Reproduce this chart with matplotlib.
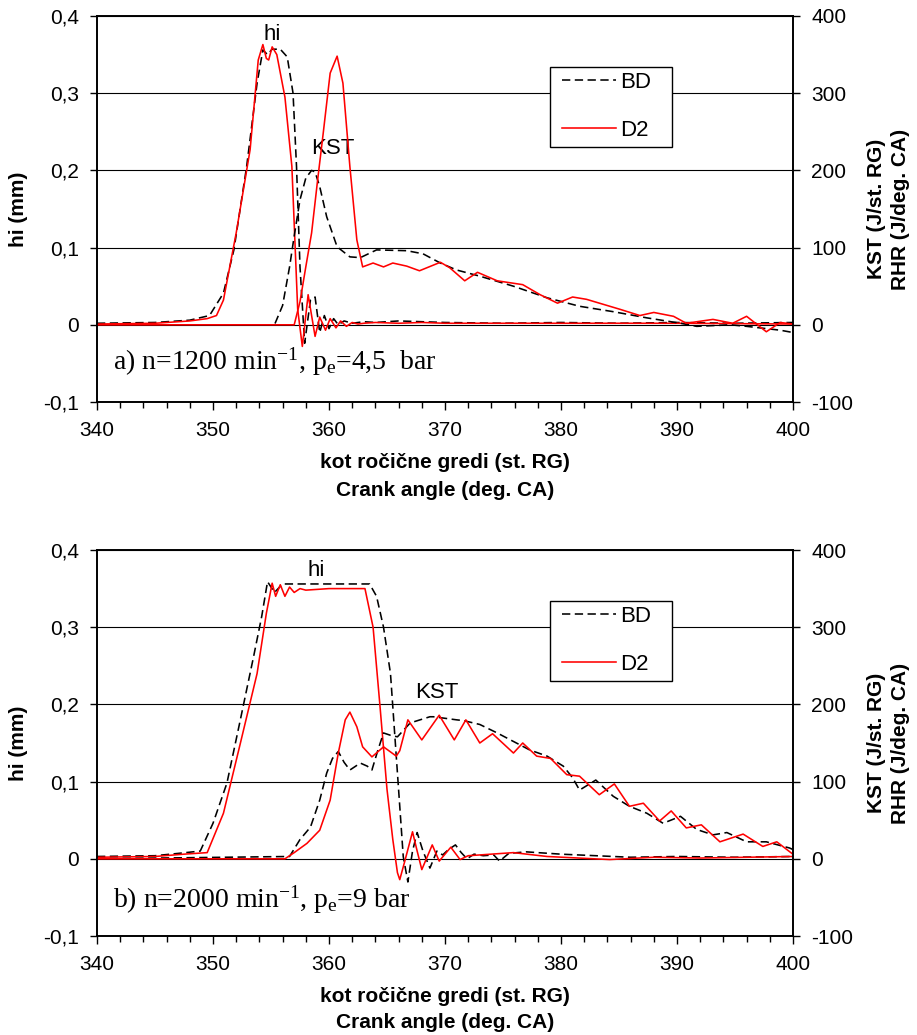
import matplotlib
matplotlib.use("Agg")
import matplotlib.pyplot as plt
from matplotlib.patches import Rectangle
from matplotlib.ticker import MultipleLocator, FixedLocator

plt.rcParams['font.family'] = ['Liberation Sans', 'DejaVu Sans']
plt.rcParams['mathtext.fontset'] = 'custom'
plt.rcParams['mathtext.rm'] = 'Liberation Serif'
plt.rcParams['mathtext.it'] = 'Liberation Serif:italic'
plt.rcParams['mathtext.bf'] = 'Liberation Serif:bold'

# ---------------- data ----------------
# a) n = 1200 1/min, pe = 4,5 bar
hi_bd_a_x = [340, 345, 348, 349.7, 350.9, 351.8, 352.9, 353.8, 354.3, 354.7, 355.1, 355.8, 356.4,
             356.9, 357.2, 357.5, 357.9, 358.4, 358.8, 359.2, 359.6, 360.0, 360.4, 360.8, 361.3,
             362, 363, 364, 366, 370, 375, 380, 385, 390, 395, 400]
hi_bd_a_y = [0.002, 0.003, 0.006, 0.012, 0.041, 0.097, 0.205, 0.313, 0.356, 0.350, 0.357, 0.357, 0.347,
             0.300, 0.205, 0.075, -0.024, 0.032, 0.036, -0.010, 0.012, -0.005, 0.008, 0.000, 0.005,
             0.002, 0.004, 0.003, 0.005, 0.003, 0.002, 0.003, 0.002, 0.003, 0.002, 0.003]

hi_d2_a_x = [340, 345, 348, 349.5, 350.3, 350.9, 352.0, 353.2, 353.9, 354.3, 354.6, 354.8, 355.1,
             355.5, 356.2, 356.8, 357.3, 357.7, 358.2, 358.8, 359.2, 359.7, 360.1, 360.6, 361.0,
             361.5, 362.0, 362.5, 363, 364, 366, 368, 370, 375, 380, 390, 400]
hi_d2_a_y = [0.001, 0.002, 0.005, 0.008, 0.012, 0.032, 0.119, 0.227, 0.343, 0.363, 0.345, 0.343, 0.360,
             0.350, 0.295, 0.205, 0.020, -0.028, 0.039, -0.015, 0.010, -0.007, 0.008, -0.004, 0.005,
             -0.002, 0.003, 0.001, 0.002, 0.003, 0.002, 0.003, 0.002, 0.002, 0.002, 0.002, 0.001]

kst_bd_a_x = [340, 355.3, 356.0, 356.6, 357.0, 357.5, 358.0, 358.5, 358.8, 359.2, 359.8, 360.7,
              361.8, 362.7, 364.1, 366.7, 368.1, 369.6, 371.0, 373.0, 375.9, 378.8, 381.6, 384.5,
              387.4, 390.3, 391.7, 394.6, 396.0, 398.9, 400]
kst_bd_a_y = [0, 0, 25, 75, 115, 162, 190, 200, 198, 179, 140, 101,
              88, 87, 97, 96, 92, 80, 71, 63, 50, 35, 24, 17,
              9, 2, -2, 0, -2, -7, -10]

kst_d2_a_x = [340, 357.0, 357.5, 358.0, 358.5, 359.0, 359.5, 360.1, 360.7, 361.2, 361.8, 362.4,
              362.9, 363.8, 364.7, 365.5, 366.7, 367.8, 369.6, 370.4, 371.7, 372.8, 374.5, 376.7,
              378.2, 379.7, 381.0, 382.2, 385.1, 386.8, 388.0, 389.7, 390.8, 393.1, 394.8, 396.0,
              397.7, 398.9, 400]
kst_d2_a_y = [0, 0, 30, 75, 119, 185, 248, 326, 348, 313, 205, 110,
              75, 80, 75, 80, 76, 70, 81, 74, 57, 68, 57, 52,
              39, 28, 36, 33, 20, 12, 16, 11, 2, 7, 2, 11,
              -9, 3, 1]

# b) n = 2000 1/min, pe = 9 bar
hi_bd_b_x = [340, 345, 347, 348.9, 350.0, 351.2, 352.3, 353.5, 354.2, 354.7, 355.3, 356.0, 357,
             360, 363.5, 364.1, 364.7, 365.3, 365.7, 366.1, 366.4, 366.8, 367.2, 367.6, 368.1,
             368.7, 369.3, 369.8, 370.3, 370.9, 371.4, 371.9, 372.5, 373.3, 374.2, 374.7, 375.5,
             377, 380, 383, 386, 390, 395, 400]
hi_bd_b_y = [0.003, 0.004, 0.007, 0.010, 0.046, 0.098, 0.176, 0.262, 0.314, 0.359, 0.345, 0.356, 0.356,
             0.356, 0.356, 0.340, 0.300, 0.240, 0.154, 0.068, 0.003, -0.030, 0.010, 0.034, 0.010,
             -0.012, 0.010, 0.005, 0.012, 0.018, 0.008, 0.000, 0.006, 0.004, 0.005, -0.003, 0.007,
             0.009, 0.006, 0.004, 0.002, 0.003, 0.002, 0.003]

hi_d2_b_x = [340, 345, 347.5, 349.5, 350.9, 352.3, 353.8, 354.6, 355.1, 355.4, 355.8, 356.2, 356.6,
             357.0, 357.5, 358, 360, 363.1, 363.8, 364.4, 365.0, 365.5, 365.9, 366.1, 366.5,
             367.2, 367.6, 368.0, 368.9, 369.5, 370.5, 371.3, 372, 373, 375.9, 378.8, 384.2,
             388, 392, 396, 400]
hi_d2_b_y = [0.002, 0.003, 0.006, 0.008, 0.059, 0.146, 0.240, 0.318, 0.357, 0.340, 0.355, 0.340, 0.352,
             0.345, 0.350, 0.348, 0.350, 0.350, 0.300, 0.197, 0.090, 0.025, -0.018, -0.027, -0.005,
             0.035, 0.010, -0.014, 0.018, -0.003, 0.015, -0.001, 0.004, 0.005, 0.008, 0.003, -0.001,
             0.002, 0.001, 0.002, 0.003]

kst_bd_b_x = [340, 356.6, 357.5, 358.4, 359.2, 359.8, 360.3, 360.8, 361.3, 361.8, 362.7, 363.3,
              363.7, 364.2, 364.7, 365.3, 365.9, 367.0, 368.7, 369.0, 371.0, 371.6, 373.0, 374.5,
              375.9, 377.3, 378.8, 380.2, 381.0, 381.6, 383.0, 384.5, 385.9, 387.4, 388.8, 390.3,
              391.7, 393.1, 394.3, 396.0, 397.7, 399.7, 400]
kst_bd_b_y = [0, 3, 25, 41, 76, 111, 130, 139, 125, 115, 124, 120,
              115, 140, 163, 160, 158, 176, 184, 184, 180, 179, 174, 163,
              152, 141, 133, 120, 105, 89, 102, 81, 68, 59, 46, 55,
              38, 31, 34, 22, 22, 14, 12]

kst_d2_b_x = [340, 356.2, 357.0, 358.1, 359.2, 360.1, 360.8, 361.4, 361.8, 362.4, 362.9, 363.7,
              364.7, 365.8, 366.1, 366.8, 368.0, 369.5, 370.8, 371.8, 373.0, 374.1, 375.9, 376.7,
              377.9, 379.1, 380.5, 381.6, 383.3, 384.6, 385.9, 387.1, 388.5, 389.5, 390.8, 392.1,
              393.7, 395.7, 397.4, 398.6, 399.9]
kst_d2_b_y = [0, 0, 8, 20, 37, 76, 137, 180, 190, 171, 145, 132,
              145, 133, 140, 180, 154, 186, 154, 180, 150, 162, 137, 150,
              133, 130, 109, 107, 83, 97, 68, 72, 49, 62, 40, 44,
              22, 32, 16, 22, 7]

series_names = ["BD", "D2"]
x_ticks = [340, 350, 360, 370, 380, 390, 400]
hi_ticks = [-0.1, 0.0, 0.1, 0.2, 0.3, 0.4]
hi_tick_labels = ["-0,1", "0", "0,1", "0,2", "0,3", "0,4"]
kst_ticks = [-100, 0, 100, 200, 300, 400]
kst_tick_labels = ["-100", "0", "100", "200", "300", "400"]
panel_notes = [r"a) n=1200 min$^{-1}$, p$_{\mathrm{e}}$=4,5  bar",
               r"b) n=2000 min$^{-1}$, p$_{\mathrm{e}}$=9 bar"]

# ---------------- figure ----------------
W, H = 917, 1035
fig = plt.figure(figsize=(W / 100, H / 100), dpi=100)

def px_box(left, top, right, bottom):
    return [left / W, 1 - bottom / H, (right - left) / W, (bottom - top) / H]

BD_STYLE = dict(color="black", lw=1.15, ls=(0, (5.2, 2.8)))
D2_STYLE = dict(color="#ff0000", lw=1.15, ls="-")
TICK_FS = 15
LABEL_FS = 15
AX_L, AX_R = 97, 793


def draw_panel(top, bottom, hi_bd, hi_d2, kst_bd, kst_d2, note, note_y, hi_pos, kst_pos):
    ax = fig.add_axes(px_box(AX_L, top, AX_R, bottom))
    ax2 = ax.twinx()

    ax.plot(hi_bd[0], hi_bd[1], **BD_STYLE)
    ax.plot(hi_d2[0], hi_d2[1], **D2_STYLE)
    l1, = ax2.plot(kst_bd[0], kst_bd[1], **BD_STYLE)
    l2, = ax2.plot(kst_d2[0], kst_d2[1], **D2_STYLE)

    ax.set_xlim(340, 400)
    ax.set_ylim(-0.1, 0.4)
    ax2.set_ylim(-100, 400)

    ax.xaxis.set_major_locator(FixedLocator(x_ticks))
    ax.xaxis.set_minor_locator(MultipleLocator(2))
    ax.set_xticklabels([str(t) for t in x_ticks])
    ax.yaxis.set_major_locator(FixedLocator(hi_ticks))
    ax.set_yticklabels(hi_tick_labels)
    ax2.yaxis.set_major_locator(FixedLocator(kst_ticks))
    ax2.set_yticklabels(kst_tick_labels)

    ax.tick_params(axis="x", which="major", direction="out", length=6, width=1,
                   labelsize=TICK_FS, pad=8, top=False)
    ax.tick_params(axis="x", which="minor", direction="out", length=4, width=1, top=False)
    ax.tick_params(axis="y", direction="out", length=5, width=1, labelsize=TICK_FS, pad=8)
    ax2.tick_params(axis="y", direction="out", length=5, width=1, labelsize=TICK_FS, pad=8)

    ax.yaxis.grid(True, color="black", lw=0.8)
    ax.set_axisbelow(True)
    for a in (ax, ax2):
        for s in a.spines.values():
            s.set_linewidth(1.2)

    ax.text(0.023, note_y, note, transform=ax.transAxes, family="Liberation Serif",
            fontsize=20, ha="left", va="baseline")
    ax.text(hi_pos[0], hi_pos[1], "hi", fontsize=LABEL_FS + 1, ha="center", va="center")
    ax.text(kst_pos[0], kst_pos[1], "KST", fontsize=LABEL_FS + 1, ha="center", va="center")

    # legend box (white, black edge) covering the grid
    h = bottom - top
    box = Rectangle(((550 - AX_L) / (AX_R - AX_L), (bottom - (top + 131)) / h),
                    (672 - 550) / (AX_R - AX_L), 80 / h,
                    transform=ax2.transAxes, facecolor="white", edgecolor="black",
                    lw=1.0, zorder=4)
    ax2.add_patch(box)
    leg = ax2.legend([l1, l2], series_names, loc="upper left",
                     bbox_to_anchor=((562 - AX_L) / (AX_R - AX_L), (bottom - (top + 56)) / h),
                     fontsize=LABEL_FS + 1, handlelength=2.45, handletextpad=0.15,
                     labelspacing=1.2, borderpad=0, borderaxespad=0, frameon=False)
    leg.set_zorder(5)
    return ax, ax2


draw_panel(16, 402,
           (hi_bd_a_x, hi_bd_a_y), (hi_d2_a_x, hi_d2_a_y),
           (kst_bd_a_x, kst_bd_a_y), (kst_d2_a_x, kst_d2_a_y),
           panel_notes[0], 0.085, (355.1, 0.376), (360.3, 0.229))
draw_panel(550, 936,
           (hi_bd_b_x, hi_bd_b_y), (hi_d2_b_x, hi_d2_b_y),
           (kst_bd_b_x, kst_bd_b_y), (kst_d2_b_x, kst_d2_b_y),
           panel_notes[1], 0.073, (358.9, 0.373), (369.3, 0.215))

# axis titles
for top, bottom, xl1, xl2 in [(16, 402, 463, 491), (550, 936, 997, 1023)]:
    yc = 1 - (top + bottom) / 2 / H
    fig.text(18 / W, yc, "hi (mm)", rotation=90, fontsize=LABEL_FS, fontweight="bold",
             ha="center", va="center")
    fig.text(888.5 / W, yc, "KST (J/st. RG)\nRHR (J/deg. CA)", rotation=90, fontsize=LABEL_FS,
             fontweight="bold", ha="center", va="center", multialignment="center",
             linespacing=1.4)
    fig.text(445 / W, 1 - xl1 / H, "kot ročične gredi (st. RG)", fontsize=LABEL_FS,
             fontweight="bold", ha="center", va="center")
    fig.text(445 / W, 1 - xl2 / H, "Crank angle (deg. CA)", fontsize=LABEL_FS,
             fontweight="bold", ha="center", va="center")

fig.savefig("out.png", dpi=100)
